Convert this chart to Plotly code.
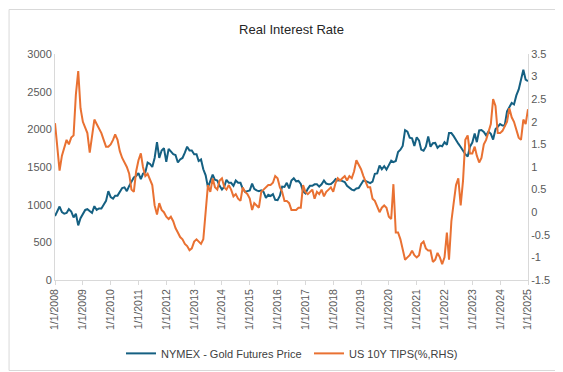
import pandas as pd
import plotly.graph_objects as go

# Monthly observations (first of month), Jan 2008 .. Jan 2025
start_date = "2008-01-01"
end_date = "2025-01-01"

gold_price = [
    # 2008
    850, 920, 975, 900, 880, 890, 940, 910, 830, 880, 725, 820,
    # 2009
    880, 930, 940, 920, 890, 980, 930, 950, 950, 1000, 1050, 1180,
    # 2010
    1100, 1080, 1120, 1120, 1180, 1220, 1230, 1180, 1250, 1310, 1360, 1380,
    # 2011
    1420, 1340, 1410, 1430, 1560, 1540, 1500, 1620, 1830, 1620, 1720, 1750,
    # 2012
    1570, 1740, 1710, 1670, 1660, 1560, 1600, 1620, 1690, 1770, 1720, 1720,
    # 2013
    1670, 1670, 1580, 1600, 1470, 1390, 1230, 1320, 1400, 1330, 1320, 1250,
    # 2014
    1200, 1240, 1330, 1290, 1290, 1250, 1320, 1290, 1290, 1210, 1170, 1180,
    # 2015
    1190, 1280, 1210, 1190, 1180, 1190, 1170, 1090, 1130, 1115, 1140, 1065,
    # 2016
    1060, 1120, 1240, 1235, 1290, 1215, 1320, 1350, 1310, 1315, 1275, 1175,
    # 2017
    1150, 1210, 1250, 1250, 1270, 1270, 1240, 1270, 1320, 1280, 1270, 1275,
    # 2018
    1300, 1340, 1320, 1325, 1315, 1300, 1250, 1225, 1200, 1190, 1215, 1220,
    # 2019
    1280, 1320, 1315, 1295, 1285, 1305, 1410, 1415, 1520, 1470, 1510, 1465,
    # 2020
    1520, 1585, 1565, 1580, 1700, 1730, 1780, 1990, 1970, 1890, 1880, 1780,
    # 2021
    1895, 1850, 1730, 1715, 1770, 1905, 1770, 1815, 1820, 1755, 1785, 1775,
    # 2022
    1830, 1795, 1950, 1950, 1910, 1850, 1810, 1765, 1715, 1670, 1640, 1770,
    # 2023
    1825, 1945, 1830, 1985, 1990, 1965, 1920, 1970, 1940, 1865, 2000, 2040,
    # 2024
    2070, 2050, 2050, 2240, 2300, 2350, 2330, 2450, 2530, 2660, 2790, 2660,
    # 2025
    2640,
]

tips_yield = [
    # 2008
    1.97, 1.45, 0.92, 1.25, 1.45, 1.6, 1.5, 1.65, 1.7, 2.6, 3.12, 2.3,
    # 2009
    2.0, 1.85, 1.75, 1.32, 1.7, 2.05, 1.95, 1.85, 1.75, 1.6, 1.45, 1.45,
    # 2010
    1.5, 1.6, 1.72, 1.6, 1.35, 1.2, 1.1, 1.0, 0.85, 0.5, 0.45, 0.9,
    # 2011
    1.15, 1.3, 1.0, 0.8, 0.85, 0.7, 0.6, 0.15, -0.05, 0.2, 0.05, 0.0,
    # 2012
    -0.1, -0.15, -0.1, -0.2, -0.35, -0.45, -0.55, -0.6, -0.7, -0.75, -0.84, -0.8,
    # 2013
    -0.65, -0.6, -0.65, -0.7, -0.6, 0.1, 0.6, 0.45, 0.75, 0.55, 0.5, 0.7,
    # 2014
    0.75, 0.55, 0.5, 0.6, 0.5, 0.35, 0.4, 0.3, 0.25, 0.55, 0.45, 0.4,
    # 2015
    0.3, 0.05, 0.2, 0.15, 0.1, 0.45, 0.5, 0.55, 0.6, 0.6, 0.65, 0.8,
    # 2016
    0.75, 0.55, 0.45, 0.25, 0.25, 0.2, 0.05, 0.05, 0.05, 0.1, 0.1, 0.6,
    # 2017
    0.45, 0.4, 0.45, 0.5, 0.3, 0.45, 0.4, 0.5, 0.35, 0.45, 0.5, 0.55,
    # 2018
    0.45, 0.65, 0.75, 0.7, 0.75, 0.8, 0.7, 0.8, 0.75, 0.9, 1.15, 1.05,
    # 2019
    0.95, 0.8, 0.7, 0.55, 0.55, 0.3, 0.25, 0.1, 0.0, 0.1, 0.15, 0.1,
    # 2020
    -0.1, -0.15, 0.62, -0.45, -0.45, -0.6, -0.8, -1.05, -1.0, -0.95, -0.85, -0.95,
    # 2021
    -1.0, -0.95, -0.7, -0.65, -0.8, -0.85, -0.85, -1.1, -1.05, -0.9, -1.0, -1.15,
    # 2022
    -1.0, -0.45, -1.05, -0.2, 0.2, 0.6, 0.75, 0.15, 0.7, 1.6, 1.7, 1.3,
    # 2023
    1.3, 1.45, 1.25, 1.1, 1.2, 1.5, 1.6, 1.75, 1.95, 2.5, 2.35, 1.75,
    # 2024
    1.75, 1.8, 1.9, 2.0, 2.3, 2.1, 2.0, 1.8, 1.65, 1.6, 2.05, 1.95,
    # 2025
    2.28,
]

year_ticks = list(range(2008, 2026))
x_tick_labels = [f"1/1/{y}" for y in year_ticks]
left_ticks = [0, 500, 1000, 1500, 2000, 2500, 3000]
right_ticks = [-1.5, -1, -0.5, 0, 0.5, 1, 1.5, 2, 2.5, 3, 3.5]
right_tick_labels = ["-1.5", "-1", "-0.5", "0", "0.5", "1", "1.5", "2", "2.5", "3", "3.5"]

dates = pd.date_range(start_date, end_date, freq="MS")

BLUE = "#156082"
ORANGE = "#E97132"
AXIS = "#D9D9D9"
TXT = "#595959"
FONT = "Liberation Sans, Arial, sans-serif"

fig = go.Figure()
fig.add_trace(go.Scatter(x=dates, y=gold_price, mode="lines", name="NYMEX - Gold Futures Price",
                         line=dict(color=BLUE, width=2)))
fig.add_trace(go.Scatter(x=dates, y=tips_yield, mode="lines", name="US 10Y TIPS(%,RHS)",
                         line=dict(color=ORANGE, width=2), yaxis="y2"))

L, R, T, B = 46.5, 43, 46, 95
W, H = 563, 372
pw, ph = W - L - R, H - T - B

fig.update_layout(
    width=W, height=H,
    margin=dict(l=L, r=R, t=T, b=B),
    paper_bgcolor="white", plot_bgcolor="white",
    font=dict(family=FONT, size=11, color=TXT),
    title=dict(text="Real Interest Rate", x=0.5, xref="paper", xanchor="center",
               y=1 - 21 / H, yanchor="middle",
               font=dict(family=FONT, size=13, color="#262626")),
    xaxis=dict(
        range=[dates[0], dates[-1]],
        tickvals=[pd.Timestamp(f"{y}-01-01") for y in year_ticks],
        ticktext=x_tick_labels, tickangle=-90,
        showline=True, linecolor=AXIS, linewidth=1,
        ticks="outside", ticklen=4, tickcolor=AXIS,
        showgrid=False, zeroline=False,
        tickfont=dict(size=10.5, color=TXT),
    ),
    yaxis=dict(
        range=[0, 3000], tickvals=left_ticks,
        showline=True, linecolor=AXIS, linewidth=1,
        showgrid=False, zeroline=False, ticks="",
        tickfont=dict(size=11, color=TXT),
    ),
    yaxis2=dict(
        range=[-1.5, 3.5], tickvals=right_ticks, ticktext=right_tick_labels,
        overlaying="y", side="right",
        showline=True, linecolor=AXIS, linewidth=1,
        showgrid=False, zeroline=False, ticks="",
        tickfont=dict(size=11, color=TXT),
    ),
    legend=dict(orientation="h", x=0.5 + 17.5 / pw, xanchor="center",
                y=-(352 - (H - B)) / ph, yanchor="middle",
                entrywidth=143, entrywidthmode="pixels",
                font=dict(size=11, color="#404040"), bgcolor="rgba(0,0,0,0)"),
    showlegend=True,
)

# thin chart-area border
fig.add_shape(type="rect", xref="paper", yref="paper",
              x0=(0.5 - L) / pw, x1=(W - 3 - L) / pw,
              y0=(H - B - (H - 2.5)) / ph, y1=(H - B - 0.5) / ph,
              line=dict(color=AXIS, width=1), fillcolor="rgba(0,0,0,0)", layer="below")

fig.write_html("out.html")
